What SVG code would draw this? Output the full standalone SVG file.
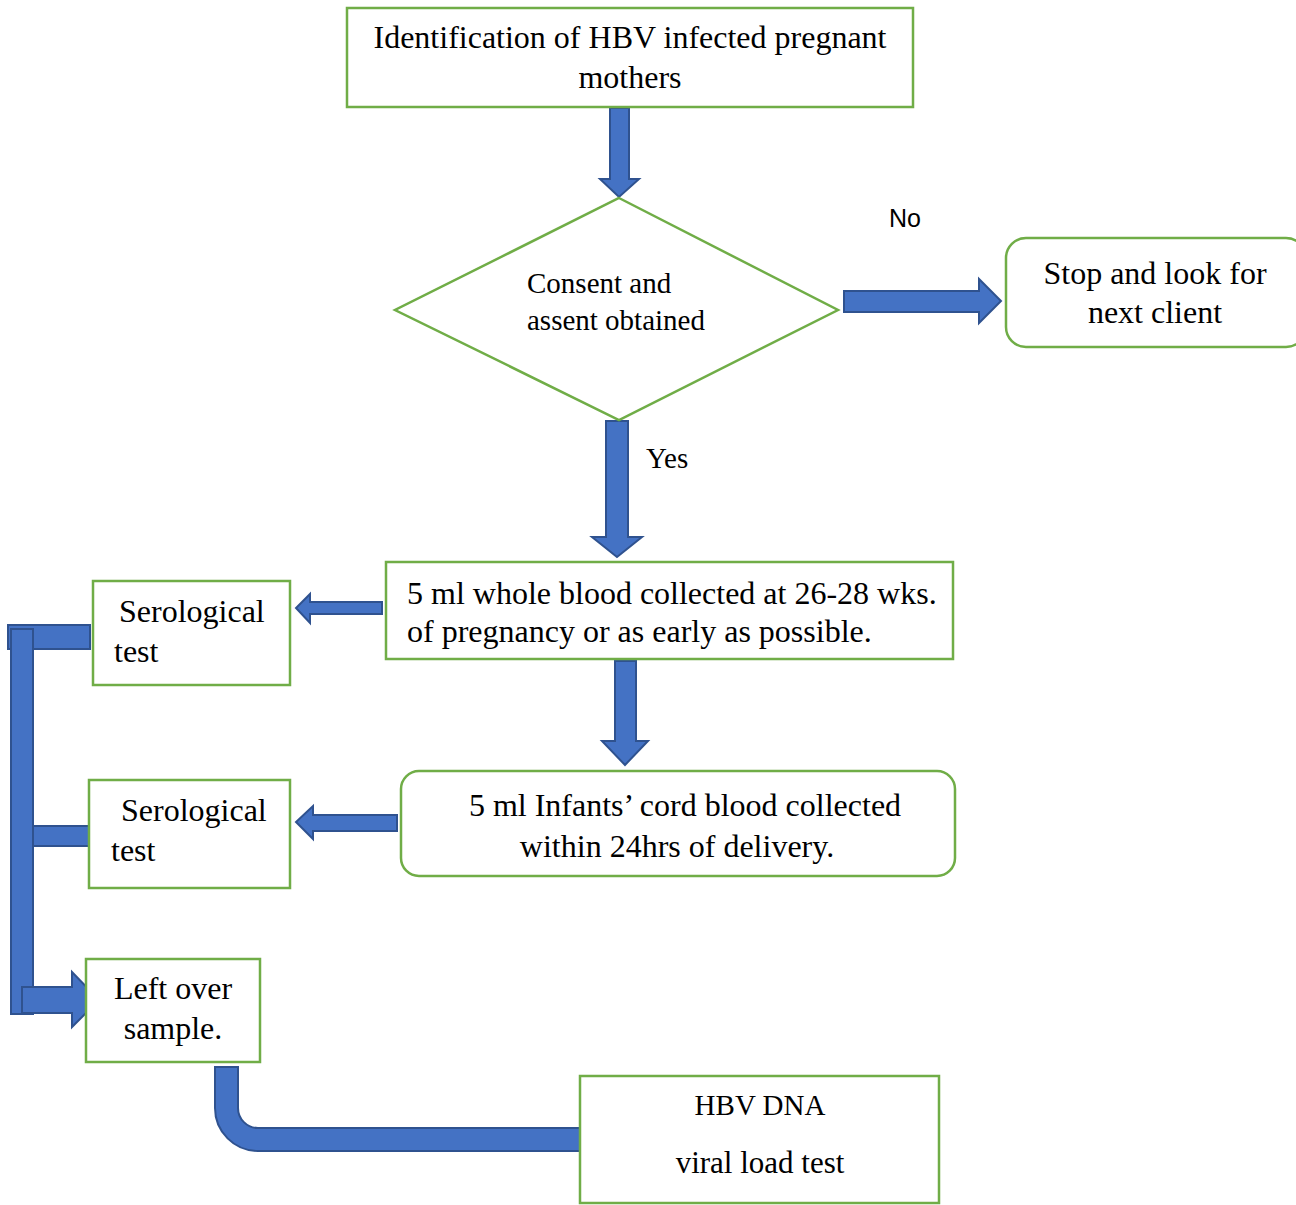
<svg xmlns="http://www.w3.org/2000/svg" width="1296" height="1205" viewBox="0 0 1296 1205">
<style>
.box{fill:#fff;stroke:#70AD47;stroke-width:2.5}
.arr{fill:#4472C4;stroke:#2F528F;stroke-width:2;stroke-linejoin:miter}
.t{font-family:"Liberation Serif","Times New Roman",serif;font-size:32px;fill:#000}
.m{font-size:29px}
.s{font-family:"Liberation Sans",Arial,sans-serif;font-size:25px;fill:#000}
</style>
<rect width="1296" height="1205" fill="#fff"/>
<g id="connectors">
<path class="arr" d="M610,108 H629 V179 H639 L619,197 L600,179 H610 Z"/>
<path class="arr" d="M844,291 H979 V279 L1001,301 L979,323 V312 H844 Z"/>
<path class="arr" d="M606,421 H628 V537 H642 L617,557 L592,537 H606 Z"/>
<path class="arr" d="M615,661 H636 V741 H648 L625,765 L602,741 H615 Z"/>
<path class="arr" d="M382,602 V614 H310 V623 L296,608 L310,594 V602 Z"/>
<path class="arr" d="M397,815 V831 H313 V839 L296,822 L313,806 V815 Z"/>
<path class="arr" d="M8,625 H90 V649 H8 Z"/>
<path class="arr" d="M11,629 H33 V1014 H11 Z"/>
<path class="arr" d="M33,826 H93 V846 H33 Z"/>
<path class="arr" d="M22,987 H72 V972 L99,1000 L72,1027 V1013 H22 Z"/>
<path class="arr" d="M215,1067 H238 V1108 A20,20 0 0 0 258,1128 H580 V1151 H258 A43,43 0 0 1 215,1108 Z"/>
</g>
<g id="n-identify">
<rect class="box" x="347" y="8" width="566" height="99"/>
<text class="t" x="630" y="48" text-anchor="middle">Identification of HBV infected pregnant</text>
<text class="t" x="630" y="88" text-anchor="middle">mothers</text>
</g>
<g id="n-consent">
<polygon class="box" points="619,198 838,310 619,420 395,310"/>
<text class="t m" x="527" y="293">Consent and</text>
<text class="t m" x="527" y="330">assent obtained</text>
</g>
<g id="lbl-no"><text class="s" x="889" y="227">No</text></g>
<g id="lbl-yes"><text class="t m" x="646" y="468">Yes</text></g>
<g id="n-stop">
<rect class="box" x="1006" y="238" width="300" height="109" rx="20"/>
<text class="t" x="1155" y="284" text-anchor="middle">Stop and look for</text>
<text class="t" x="1155" y="323" text-anchor="middle">next client</text>
</g>
<g id="n-whole">
<rect class="box" x="386" y="562" width="567" height="97"/>
<text class="t" x="407" y="604">5 ml whole blood collected at 26-28 wks.</text>
<text class="t" x="407" y="642">of pregnancy or as early as possible.</text>
</g>
<g id="n-sero1">
<rect class="box" x="93" y="581" width="197" height="104"/>
<text class="t" x="119" y="622">Serological</text>
<text class="t" x="114" y="662">test</text>
</g>
<g id="n-cord">
<rect class="box" x="401" y="771" width="554" height="105" rx="18"/>
<text class="t" x="685" y="816" text-anchor="middle">5 ml Infants’ cord blood collected</text>
<text class="t" x="677" y="857" text-anchor="middle">within 24hrs of delivery.</text>
</g>
<g id="n-sero2">
<rect class="box" x="89" y="780" width="201" height="108"/>
<text class="t" x="121" y="821">Serological</text>
<text class="t" x="111" y="861">test</text>
</g>
<g id="n-left">
<rect class="box" x="86" y="959" width="174" height="103"/>
<text class="t" x="173" y="999" text-anchor="middle">Left over</text>
<text class="t" x="173" y="1039" text-anchor="middle">sample.</text>
</g>
<g id="n-hbv">
<rect class="box" x="580" y="1076" width="359" height="127"/>
<text class="t m" x="760" y="1115" text-anchor="middle">HBV DNA</text>
<text class="t" x="760" y="1173" text-anchor="middle" style="font-size:31px">viral load test</text>
</g>
</svg>
